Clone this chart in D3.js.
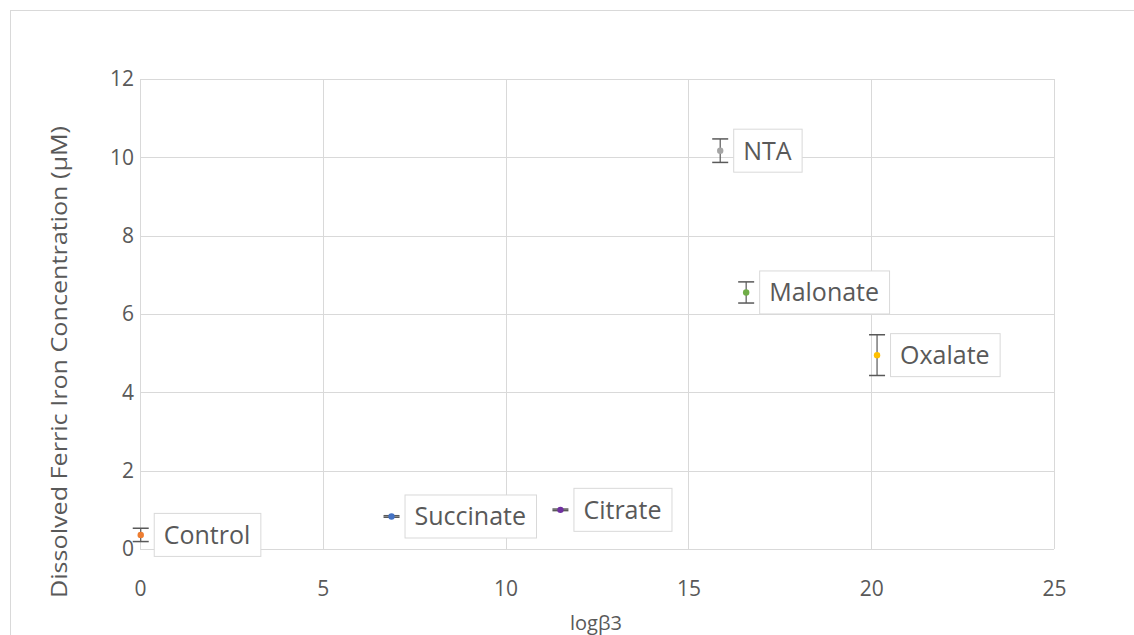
<!DOCTYPE html>
<html>
<head>
<meta charset="utf-8">
<script src="https://cdn.jsdelivr.net/npm/d3@7"></script>
<style>
  body { margin: 0; background: #fff; }
  text { font-family: "Open Sans", sans-serif; fill: #595959; }
</style>
</head>
<body>
<div id="chart"></div>
<script>
// Data
const names = ['Control', 'Succinate', 'Citrate', 'NTA', 'Malonate', 'Oxalate']
const logBeta = [0.02, 6.88, 11.5, 15.87, 16.58, 20.16]
const iron = [0.36, 0.83, 1.0, 10.17, 6.55, 4.95]
const errors = [0.17, 0.02, 0.02, 0.3, 0.27, 0.52]
const colors = ['#ED7D31', '#4472C4', '#7030A0', '#A5A5A5', '#70AD47', '#FFC000']
const xTicks = [0, 5, 10, 15, 20, 25]
const yTicks = [0, 2, 4, 6, 8, 10, 12]

const dataset = names.map((n, i) => ({name: n, x: logBeta[i], y: iron[i], err: errors[i], color: colors[i]}))

// Dimensions
let dimensions = {
  width: 1134,
  height: 635,
  left: 140,
  right: 1054,
  top: 79,
  bottom: 549
}

const svg = d3.select('#chart')
  .append('svg')
  .attr('width', dimensions.width)
  .attr('height', dimensions.height)

// chart border
svg.append('rect')
  .attr('x', 10.5).attr('y', 10.5)
  .attr('width', 1140).attr('height', 640)
  .attr('fill', 'none').attr('stroke', '#d9d9d9')

// Scales
const xScale = d3.scaleLinear().domain([0, 25]).range([dimensions.left, dimensions.right])
const yScale = d3.scaleLinear().domain([0, 12]).range([dimensions.bottom, dimensions.top])

// grid
svg.append('g').selectAll('line.v')
  .data(xTicks)
  .join('line')
  .attr('x1', d => Math.round(xScale(d)) + 0.5).attr('x2', d => Math.round(xScale(d)) + 0.5)
  .attr('y1', dimensions.top).attr('y2', dimensions.bottom)
  .attr('stroke', '#d9d9d9')

svg.append('g').selectAll('line.h')
  .data(yTicks)
  .join('line')
  .attr('x1', dimensions.left).attr('x2', dimensions.right)
  .attr('y1', d => Math.round(yScale(d)) + 0.5).attr('y2', d => Math.round(yScale(d)) + 0.5)
  .attr('stroke', '#d9d9d9')

// Axes
const xAxis = d3.axisBottom(xScale).tickValues(xTicks).tickSize(0).tickPadding(32)
const xg = svg.append('g').attr('transform', `translate(0, ${dimensions.bottom})`).call(xAxis)
xg.select('.domain').remove()
xg.selectAll('text').style('font-size', '21px').attr('fill', '#595959')

const yAxis = d3.axisLeft(yScale).tickValues(yTicks).tickSize(0).tickPadding(6)
const yg = svg.append('g').attr('transform', `translate(${dimensions.left}, 0)`).call(yAxis)
yg.select('.domain').remove()
yg.selectAll('text').style('font-size', '21px').attr('fill', '#595959')

// axis titles
svg.append('text')
  .attr('x', (dimensions.left + dimensions.right) / 2 - 1)
  .attr('y', 630)
  .attr('text-anchor', 'middle')
  .style('font-size', '20px')
  .text('logβ3')

svg.append('text')
  .attr('transform', `translate(67, 362) rotate(-90)`)
  .attr('text-anchor', 'middle')
  .attr('textLength', 472)
  .attr('lengthAdjust', 'spacingAndGlyphs')
  .style('font-size', '22px')
  .text('Dissolved Ferric Iron  Concentration (μM)')

// Error bars
const ctr = svg.append('g')
const eb = ctr.selectAll('g.eb').data(dataset).join('g')
eb.append('line')
  .attr('x1', d => xScale(d.x)).attr('x2', d => xScale(d.x))
  .attr('y1', d => yScale(d.y + d.err)).attr('y2', d => yScale(d.y - d.err))
  .attr('stroke', '#595959').attr('stroke-width', 1.2)
eb.selectAll('line.cap')
  .data(d => [d.y + d.err, d.y - d.err].map(v => ({x: d.x, v})))
  .join('line')
  .attr('x1', d => xScale(d.x) - 8).attr('x2', d => xScale(d.x) + 8)
  .attr('y1', d => yScale(d.v)).attr('y2', d => yScale(d.v))
  .attr('stroke', '#595959').attr('stroke-width', 1.5)

// Points
ctr.selectAll('circle')
  .data(dataset)
  .join('circle')
  .attr('cx', d => xScale(d.x))
  .attr('cy', d => yScale(d.y))
  .attr('r', 3.2)
  .attr('fill', d => d.color)

// Labels
const lab = svg.append('g').selectAll('g').data(dataset).join('g')
const boxes = lab.append('rect')
const texts = lab.append('text')
  .attr('x', d => xScale(d.x) + 23)
  .attr('y', d => yScale(d.y) + 9)
  .style('font-size', '25px')
  .text(d => d.name)
texts.each(function(d) { d.w = this.getComputedTextLength() })
boxes
  .attr('x', d => xScale(d.x) + 13.5)
  .attr('y', d => yScale(d.y) - 21.5)
  .attr('width', d => d.w + 20)
  .attr('height', 43)
  .attr('fill', '#fff')
  .attr('stroke', '#d9d9d9')
</script>
</body>
</html>
